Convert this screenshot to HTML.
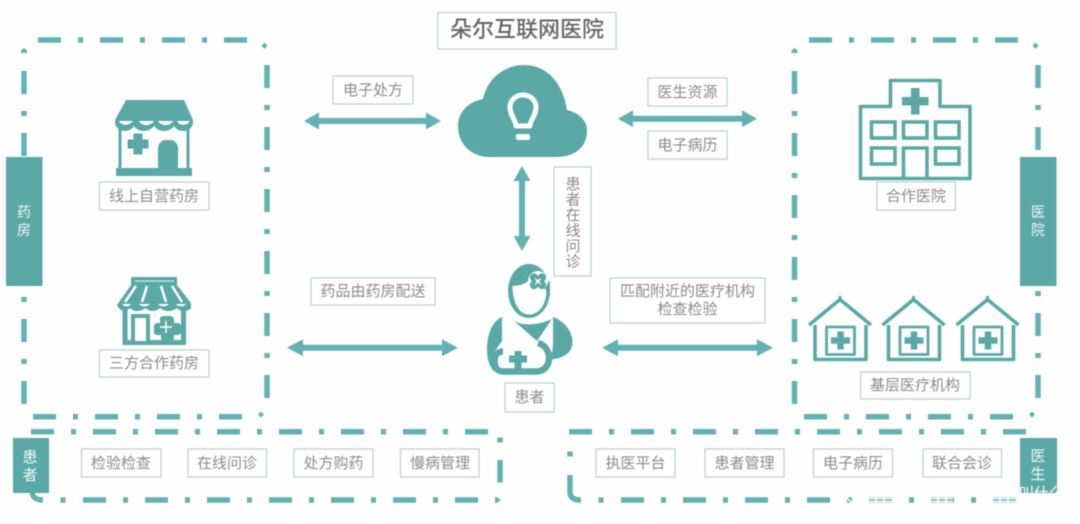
<!DOCTYPE html>
<html><head><meta charset="utf-8"><title>朵尔互联网医院</title>
<style>
html,body{margin:0;padding:0;background:#fff;width:1080px;height:524px;overflow:hidden}
svg{display:block;filter:blur(.5px)}
text{font-family:"Liberation Sans","Noto Sans CJK SC",sans-serif}
.l{fill:#fff;stroke:#b4d2cf;stroke-width:1.2}
.t{fill:#8b8b8b;font-size:15px;text-anchor:middle;letter-spacing:0}
.w{fill:#f2f8f8;font-size:14px;text-anchor:middle}
.d{stroke:#63b2b2;stroke-width:5.5;fill:none;stroke-dasharray:23 17 5 17}
.s{stroke:#63b2b2;stroke-width:5.5;fill:none}
.f{fill:#5aa9a6}
.o{fill:none;stroke:#5aa9a6;stroke-width:3.6}
.a{fill:#63b2b2}
</style></head><body>
<svg width="1080" height="524" viewBox="0 0 1080 524" xmlns="http://www.w3.org/2000/svg">
<rect width="1080" height="524" fill="#fefefe"/>

<!-- left box -->
<line class="d" x1="38" y1="40" x2="248" y2="40"/>
<line class="d" x1="267" y1="65" x2="267" y2="398"/>
<line class="d" x1="24" y1="71" x2="24" y2="404"/>
<line class="d" x1="33" y1="416.7" x2="243" y2="416.7"/>
<path class="a" d="M264.500 42.500l3 3.200-3 3.200-3-3.200z"/>
<path class="a" d="M24 48l3 2.500v2.500h-6v-2.500z"/>
<path class="a" d="M261 411.500l3 3-3 3-3-3z"/>

<!-- right box -->
<line class="d" x1="809" y1="40" x2="1019" y2="40"/>
<line class="d" x1="1038" y1="65" x2="1038" y2="398"/>
<line class="d" x1="794.500" y1="71" x2="794.500" y2="404"/>
<line class="d" x1="804" y1="416.700" x2="1014" y2="416.700"/>
<path class="a" d="M1035.500 42.500l3 3.200-3 3.200-3-3.200z"/>
<path class="a" d="M794.500 48l3 2.500v2.500h-6v-2.500z"/>
<path class="a" d="M1032 411.500l3 3-3 3-3-3z"/>

<!-- bottom left strip -->
<line class="d" x1="31" y1="431.700" x2="488" y2="431.700"/>
<line class="d" x1="83" y1="500" x2="478" y2="500"/>
<rect class="a" x="60.500" y="497.300" width="5" height="5.500"/>
<path class="a" d="M495 497.300h2.500l3 2.700-3 2.800h-2.500z"/>
<path class="s" d="M32 491Q32 500 43 500"/>
<rect class="a" x="497.300" y="437.500" width="5.500" height="5"/>
<rect class="a" x="497.300" y="460" width="5.500" height="22.500"/>

<!-- bottom right strip -->
<line class="d" x1="569" y1="431.700" x2="1026" y2="431.700"/>
<line class="d" x1="621" y1="500" x2="1016" y2="500"/>
<rect class="a" x="598.500" y="497.300" width="5" height="5.500"/>
<rect class="a" x="567.300" y="451.500" width="5.500" height="5"/>
<path class="s" d="M570 475V492Q570 500 581 500"/>

<!-- side tabs -->
<rect class="f" x="6" y="157" width="36.500" height="129"/>
<text class="w" x="24" y="217">药</text><text class="w" x="24" y="235">房</text>
<rect class="f" x="1020" y="157" width="36.500" height="129"/>
<text class="w" x="1038" y="217">医</text><text class="w" x="1038" y="235">院</text>
<rect class="f" x="13" y="438" width="36" height="55"/>
<text class="w" x="30" y="462" style="font-size:15px">患</text><text class="w" x="30" y="480" style="font-size:15px">者</text>
<rect class="f" x="1020" y="438" width="37" height="55"/>
<text class="w" x="1038" y="461" style="font-size:15px">医</text><text class="w" x="1038" y="479" style="font-size:15px">生</text>

<!-- arrows -->
<g class="a">
<path d="M304 121l15-8.500v5.500h107v-5.500l15 8.500-15 8.500v-5.500h-107v5.500z"/>
<path d="M618 118.700l15-8.500v5.500h109v-5.500l15 8.500-15 8.500v-5.500h-109v5.500z"/>
<path d="M287 347.700l16-8.500v5.500h139v-5.500l16 8.500-16 8.500v-5.500h-139v5.500z"/>
<path d="M602 347.700l16-8.500v5.500h139v-5.500l16 8.500-16 8.500v-5.500h-139v5.500z"/>
<path d="M522 166l8.500 15h-5.500v55h5.500l-8.500 15-8.500-15h5.500v-55h-5.500z"/>
</g>

<!-- title -->
<rect class="l" x="438" y="12.500" width="178" height="36.500"/>
<text x="527" y="37" style="font-size:22px;fill:#666;text-anchor:middle;font-weight:500">朵尔互联网医院</text>

<!-- cloud -->
<path class="f" d="M490 157C470 157 458 143 458 126C458 112 468 102 483 99C487 79 504 65 524 65C548 65 563 84 567 110C579 113 587 120 587 131C587 147 575 157 556 157Z"/>
<path d="M516 126C516 120 510 116 510 107C510 100 516 95 523 95C530 95 536 100 536 107C536 116 530 120 530 126Z" fill="none" stroke="#fff" stroke-width="5" stroke-linejoin="round"/>
<rect x="516" y="134" width="14" height="6" rx="2" fill="#fff"/>

<!-- store 1 -->
<path class="f" d="M126 100H184L193 120H115Z"/>
<path class="f" d="M115 120h78v3c-1 6-6 8-10 8-4 0-7-2-9-5-2 3-5 5-10 5-4 0-8-2-10-5-2 3-6 5-10 5-5 0-8-2-10-5-2 3-5 5-9 5-5 0-9-3-10-8z"/>
<path d="M119 121c2 4 9 6 14 0zM139 121c2 5 11 6 15 0zM158 121c3 5 11 6 15 0zM177 121c2 5 10 5 13 0z" fill="#fff"/>
<path d="M120 128V170M188 128V170" stroke="#5aa9a6" stroke-width="3" fill="none"/>
<rect class="f" x="116" y="168" width="76" height="8"/>
<path class="f" d="M158 168V148a8 8 0 0 1 8-8h4a8 8 0 0 1 8 8v20z"/>
<path class="f" d="M134 134h8v6h6v8h-6v6h-8v-6h-6v-8h6z" stroke="#5aa9a6" stroke-width="1" stroke-linejoin="round"/>

<!-- store 2 -->
<path class="f" d="M131 277H177V285L191 303V308C188 312 180 312 177 308C172 312 165 312 160 308C156 312 149 312 146 308C140 312 134 312 130 308C126 312 120 312 117 305L131 285Z"/>
<path d="M135 281H174" stroke="#d5ebe9" stroke-width="1.200"/>
<path d="M136 286L125 302M147 286L142 302M161 286L166 302M172 286L182 302" stroke="#fff" stroke-width="2.500"/>
<path d="M122 304h9c-2 3-7 3-9 0zM139 304h11c-2 3-9 3-11 0zM158 304h11c-2 3-9 3-11 0zM176 304h10c-2 3-8 3-10 0z" fill="#fff"/>
<path d="M125 309V342.500H183.500V309" fill="none" stroke="#5aa9a6" stroke-width="5"/>
<rect x="133" y="316" width="15" height="27" fill="#fff" stroke="#5aa9a6" stroke-width="4"/>
<path class="f" d="M160 318a4 4 0 0 1 4-2h6a4 4 0 0 1 4 3v4h4a3 3 0 0 1 3 3v6a3 3 0 0 1-3 3h-4v3a3 3 0 0 1-3 3h-7a3 3 0 0 1-3-3v-3h-4a3 3 0 0 1-3-3v-6a3 3 0 0 1 3-3h3z"/>
<path d="M166 321V333M160 327H172" stroke="#fff" stroke-width="1.500"/>

<!-- patient -->
<ellipse class="f" cx="529" cy="291" rx="21" ry="27"/>
<path d="M512.500 286C520 286 527 283 531 279L546.500 290C546.500 303 540 314.500 529 314.500C519 314.500 512.500 302 512.500 286Z" fill="#fff"/>
<circle cx="538" cy="281" r="10" fill="#fff"/>
<g class="f"><circle cx="534" cy="277.500" r="4.200"/><circle cx="542" cy="277.500" r="4.200"/><circle cx="534" cy="285" r="4.200"/><circle cx="542" cy="285" r="4.200"/></g>
<path d="M535 278.500L541 284.500M541 278.500L535 284.500" stroke="#fff" stroke-width="1"/>
<path d="M546 288Q549 284 550 280V296L546.500 296Z" class="f"/>
<path class="f" d="M502 317V341L495 351V372C490 368 487 360 487 350C487 336 491 322 502 317Z"/>
<path class="f" d="M513 320C520 326 538 326 552 319L537 341Z"/>
<path class="f" d="M553 317C566 322 573 333 572.500 343C572 352 565 358 551 359.500L553 345Z"/>
<path d="M503 351.500C497 351.500 494.500 356 494.500 361C494.500 367 497 371.500 503 371.500H536C544 371.500 549 366 549 358C549 351 545 345 538 343" fill="none" stroke="#5aa9a6" stroke-width="6.500"/>
<path class="f" d="M515 351.500h6v4.500h5.500v6H521v6h-6v-6h-5.500v-6h5.500z" stroke="#5aa9a6" stroke-width="1"/>

<!-- hospital -->
<path fill="none" stroke="#5aa9a6" stroke-width="3.600" stroke-linejoin="round" d="M860.500 106.500H890.500V80.500H940V106.500H970V178.500H860.500Z"/>
<path class="f" d="M911 88h8.500v9h9v8.500h-9v9H911v-9h-9V97h9z"/>
<g class="o"><rect x="871.500" y="122" width="23.500" height="16"/><rect x="903.500" y="122" width="23.500" height="16"/><rect x="935.500" y="122" width="23.500" height="16"/><rect x="871.500" y="148" width="23.500" height="16"/><rect x="935.500" y="148" width="23.500" height="16"/><path d="M903.500 178V148H927V178"/></g>

<!-- houses -->
<g fill="none" stroke="#5aa9a6" stroke-width="3.600" stroke-linejoin="round">
<path d="M809 325L840 299.500L871 325M815 325V359.500H866V325"/><path d="M840 300V296" stroke-width="3"/>
<rect x="826.500" y="327" width="28" height="27.500" stroke-width="2.800"/>
<path d="M840.500 331.500V349.500M831 340.500H850" stroke-width="6.500"/>
</g>
<g fill="none" stroke="#5aa9a6" stroke-width="3.600" stroke-linejoin="round" transform="translate(73.500 0)">
<path d="M809 325L840 299.500L871 325M815 325V359.500H866V325"/><path d="M840 300V296" stroke-width="3"/>
<rect x="826.500" y="327" width="28" height="27.500" stroke-width="2.800"/>
<path d="M840.500 331.500V349.500M831 340.500H850" stroke-width="6.500"/>
</g>
<g fill="none" stroke="#5aa9a6" stroke-width="3.600" stroke-linejoin="round" transform="translate(147.500 0)">
<path d="M809 325L840 299.500L871 325M815 325V359.500H866V325"/><path d="M840 300V296" stroke-width="3"/>
<rect x="826.500" y="327" width="28" height="27.500" stroke-width="2.800"/>
<path d="M840.500 331.500V349.500M831 340.500H850" stroke-width="6.500"/>
</g>

<!-- labels -->
<rect class="l" x="99.500" y="182" width="109.500" height="28"/><text class="t" x="154" y="201">线上自营药房</text>
<rect class="l" x="99.500" y="350" width="109.500" height="27"/><text class="t" x="154" y="368">三方合作药房</text>
<rect class="l" x="81.500" y="449" width="79.500" height="28"/><text class="t" x="121" y="468">检验检查</text>
<rect class="l" x="188" y="449" width="78.500" height="28"/><text class="t" x="227" y="468">在线问诊</text>
<rect class="l" x="294" y="449" width="79" height="28"/><text class="t" x="333.500" y="468">处方购药</text>
<rect class="l" x="400.500" y="449" width="78.500" height="28"/><text class="t" x="440" y="468">慢病管理</text>
<rect class="l" x="596" y="449" width="79" height="28"/><text class="t" x="635.500" y="468">执医平台</text>
<rect class="l" x="705" y="449" width="79" height="28"/><text class="t" x="744.500" y="468">患者管理</text>
<rect class="l" x="813.500" y="449" width="79" height="28"/><text class="t" x="853" y="468">电子病历</text>
<rect class="l" x="923" y="449" width="78.500" height="28"/><text class="t" x="962" y="468">联合会诊</text>
<rect class="l" x="860.500" y="372" width="109.500" height="27"/><text class="t" x="915" y="390">基层医疗机构</text>
<rect class="l" x="877" y="182" width="78.500" height="28"/><text class="t" x="916" y="201">合作医院</text>
<rect class="l" x="333" y="76" width="80" height="28"/><text class="t" x="373" y="95">电子处方</text>
<rect class="l" x="648" y="78" width="79" height="28"/><text class="t" x="687.500" y="97">医生资源</text>
<rect class="l" x="648" y="131" width="79" height="28"/><text class="t" x="687.500" y="150">电子病历</text>
<rect class="l" x="554" y="167" width="37" height="109"/>
<text class="t" x="573" y="189">患</text><text class="t" x="573" y="204.500">者</text><text class="t" x="573" y="220">在</text><text class="t" x="573" y="235.500">线</text><text class="t" x="573" y="251">问</text><text class="t" x="573" y="266.500">诊</text>
<rect class="l" x="311" y="278" width="124" height="27"/><text class="t" x="373" y="296">药品由药房配送</text>
<rect class="l" x="610" y="278" width="155" height="45"/><text class="t" x="687.500" y="296">匹配附近的医疗机构</text><text class="t" x="687.500" y="314">检查检验</text>
<rect class="l" x="505" y="383" width="49" height="29"/><text class="t" x="529.500" y="402">患者</text>

<!-- watermark remnants -->
<g stroke="#fff" stroke-width="1.500" fill="none">
<path d="M846 497L852 503"/>
<path d="M868 498.500H892M868 501.500H892M876 497V503M884 497V503"/>
<path d="M930 498.500H953M930 501.500H953M938 497V503M946 497V503"/>
<path d="M992 498.500H1016M992 501.500H1016M1000 497V503M1008 497V503"/>
</g>
<text x="1019" y="498" style="font-size:15px;fill:#fff">叫什么</text>
</svg>
</body></html>
